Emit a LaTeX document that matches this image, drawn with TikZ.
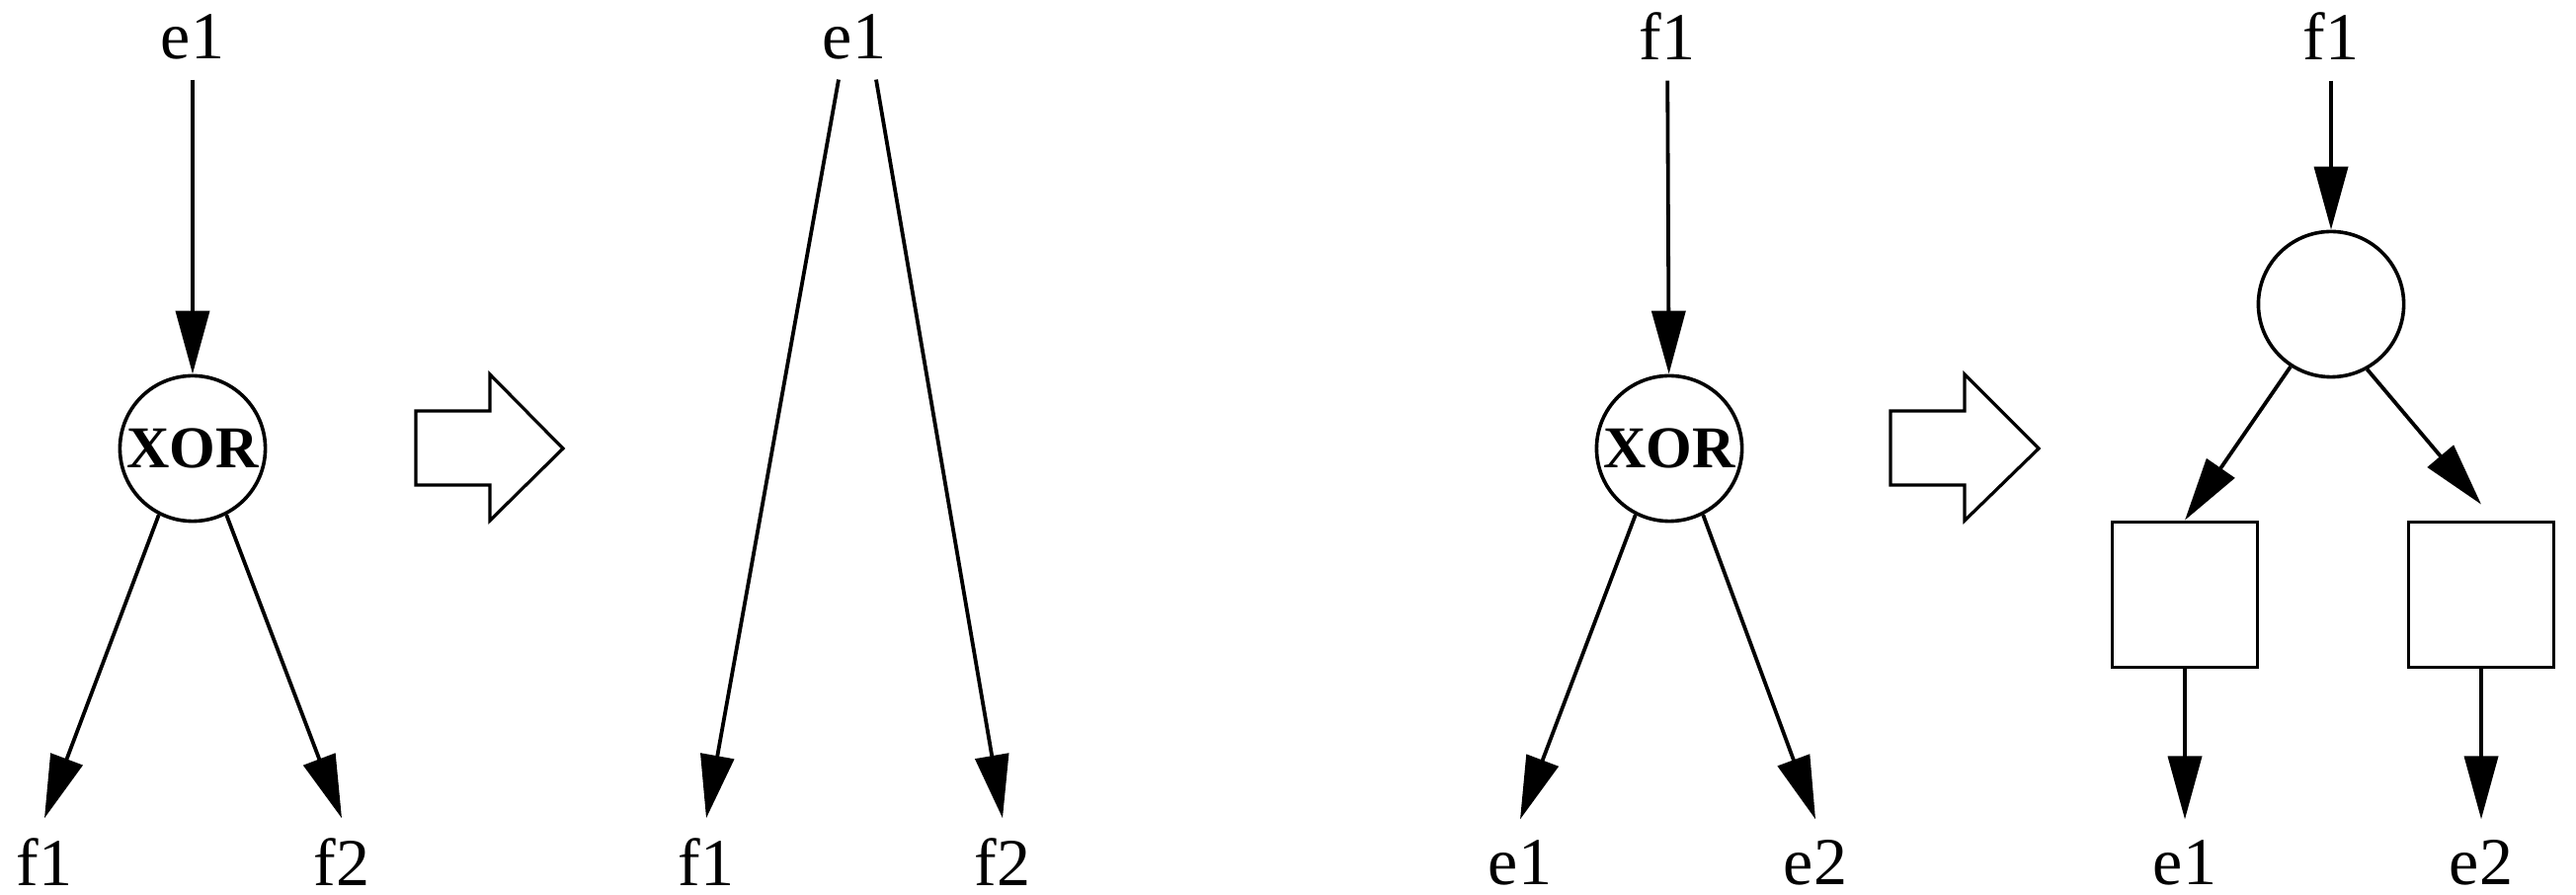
\documentclass[tikz,border=0pt]{standalone}
\usepackage{fontspec}
\setmainfont{Liberation Serif}
\usetikzlibrary{arrows.meta}
\tikzset{
  every picture/.style={line join=miter, >={Triangle[length=16pt,width=8.5pt]}},
  lbl/.style={font=\fontsize{17}{20}\selectfont, inner sep=5pt},
  gate/.style={draw, circle, line width=0.9pt, minimum size=36.8pt, inner sep=0pt, font=\fontsize{15}{18}\selectfont\bfseries},
  blk/.style={draw, rectangle, line width=0.9pt, minimum size=36.8pt, inner sep=0pt},
  edge/.style={->, line width=0.95pt},
  bigarrow/.style={draw, line width=0.8pt, fill=white},
}

\begin{document}
\begin{tikzpicture}[x=0.25pt,y=-0.25pt]
\useasboundingbox (0,0) rectangle (2608,906);
\node[lbl] (e1a) at (195,37) {e1};
\node[gate] (xa) at (195,454) {XOR};
\node[lbl] (f1a) at (45,873) {f1};
\node[lbl] (f2a) at (346,873) {f2};
\draw[edge] (e1a) -- (xa);
\draw[edge] (xa.-117) -- (f1a.north);
\draw[edge] (xa.-63) -- (f2a.north);
\draw[bigarrow] (421,416) -- (496,416) -- (496,379) -- (570,454) -- (496,527) -- (496,491) -- (421,491) -- cycle;
\node[lbl] (e1b) at (865,37) {e1};
\node[lbl] (f1b) at (715,873) {f1};
\node[lbl] (f2b) at (1015,873) {f2};
\draw[edge] ([xshift=-4pt]e1b.south) -- (f1b.north);
\draw[edge] ([xshift=5.5pt]e1b.south) -- (f2b.north);
\node[lbl] (f1c) at (1688,37) {f1};
\node[gate] (xc) at (1690,454) {XOR};
\node[lbl] (e1c) at (1539,873) {e1};
\node[lbl] (e2c) at (1838,873) {e2};
\draw[edge] (f1c) -- (xc);
\draw[edge] (xc.-117) -- (e1c.north);
\draw[edge] (xc.-63) -- (e2c.north);
\draw[bigarrow] (1914,416) -- (1989,416) -- (1989,379) -- (2064,454) -- (1989,527) -- (1989,491) -- (1914,491) -- cycle;
\node[lbl] (f1d) at (2360,37) {f1};
\node[gate] (cd) at (2360,308) {};
\node[blk] (bl) at (2212,602) {};
\node[blk] (br) at (2512,602) {};
\node[lbl] (e1d) at (2212,873) {e1};
\node[lbl] (e2d) at (2512,873) {e2};
\draw[edge] (f1d) -- (cd);
\draw[edge] (cd.-123) -- (bl.north);
\draw[edge] (cd.-61) -- ([yshift=4pt]br.north);
\draw[edge] (bl) -- (e1d);
\draw[edge] (br) -- (e2d);
\end{tikzpicture}
\end{document}
